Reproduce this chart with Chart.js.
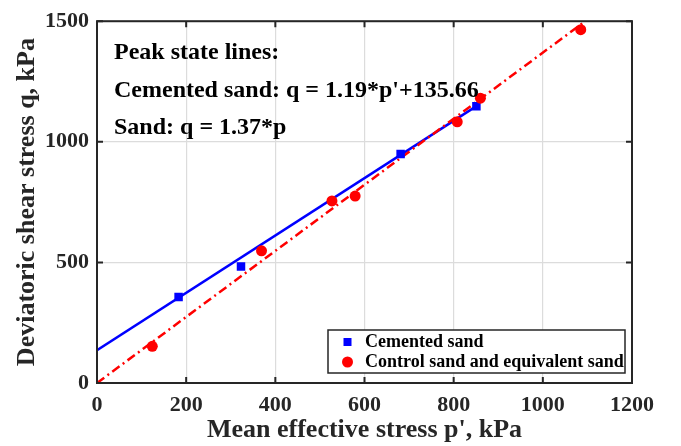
<!DOCTYPE html>
<html>
<head>
<meta charset="utf-8">
<script src="https://cdn.jsdelivr.net/npm/chart.js@4.4.1/dist/chart.umd.min.js"></script>
<style>
  body { margin: 0; background: #fff; }
  #wrap { width: 681px; height: 446px; }
</style>
</head>
<body>
<div id="wrap"><canvas id="mainChart" width="681" height="446"></canvas></div>
<script>
// values
const cementedP = [183, 323, 681, 851];
const cementedQ = [357, 483, 949, 1147];

const sandP = [124, 369, 527, 579, 808, 860, 1085];
const sandQ = [152, 548, 755, 775, 1083, 1181, 1465];

// fitted line end points
const cementedLineP = [0, 851];
const cementedLineQ = [135.66, 1148];
const sandLineP = [0, 1090];
const sandLineQ = [0, 1493];

const xTicks = [0, 200, 400, 600, 800, 1000, 1200];
const yTicks = [0, 500, 1000, 1500];

const noteLines = [
  "Peak state lines:",
  "Cemented sand: q = 1.19*p'+135.66",
  "Sand: q = 1.37*p"
];
const legendLabels = ["Cemented sand", "Control sand and equivalent sand"];

const serif = "'Liberation Serif', 'Times New Roman', serif";
const BLUE = '#0000ff';
const RED = '#ff0000';

function toPoints(xs, ys) {
  return xs.map((x, i) => ({ x: x, y: ys[i] }));
}

// box, inward ticks, notes and legend
const decorPlugin = {
  id: 'decor',
  afterDraw(chart) {
    const ctx = chart.ctx;
    const a = chart.chartArea;
    const xs = chart.scales.x;
    const ys = chart.scales.y;
    ctx.save();
    ctx.strokeStyle = '#262626';
    ctx.lineWidth = 2;
    ctx.strokeRect(a.left, a.top, a.right - a.left, a.bottom - a.top);

    const t = 6;
    ctx.beginPath();
    xTicks.forEach(v => {
      const px = xs.getPixelForValue(v);
      ctx.moveTo(px, a.bottom); ctx.lineTo(px, a.bottom - t);
      ctx.moveTo(px, a.top); ctx.lineTo(px, a.top + t);
    });
    yTicks.forEach(v => {
      const py = ys.getPixelForValue(v);
      ctx.moveTo(a.left, py); ctx.lineTo(a.left + t, py);
      ctx.moveTo(a.right, py); ctx.lineTo(a.right - t, py);
    });
    ctx.stroke();

    // notes
    ctx.fillStyle = '#000';
    ctx.font = "bold 24px " + serif;
    ctx.textBaseline = 'middle';
    ctx.textAlign = 'left';
    noteLines.forEach((s, i) => {
      ctx.fillText(s, a.left + 17, a.top + 32 + i * 37.5);
    });

    // legend
    const lx = 328, ly = 330, lw = 297, lh = 43;
    ctx.fillStyle = '#fff';
    ctx.fillRect(lx, ly, lw, lh);
    ctx.strokeStyle = '#262626';
    ctx.lineWidth = 1.5;
    ctx.strokeRect(lx, ly, lw, lh);
    ctx.font = "bold 18px " + serif;
    ctx.fillStyle = BLUE;
    ctx.fillRect(lx + 15.5, ly + 8, 8, 8);
    ctx.fillStyle = RED;
    ctx.beginPath();
    ctx.arc(lx + 19.5, ly + 32, 5.5, 0, Math.PI * 2);
    ctx.fill();
    ctx.fillStyle = '#000';
    ctx.fillText(legendLabels[0], lx + 37, ly + 12);
    ctx.fillText(legendLabels[1], lx + 37, ly + 32);
    ctx.restore();
  }
};

const ctx = document.getElementById('mainChart').getContext('2d');
new Chart(ctx, {
  type: 'scatter',
  data: {
    datasets: [
      {
        label: legendLabels[0],
        data: toPoints(cementedP, cementedQ),
        pointStyle: 'rect',
        pointRadius: 6,
        backgroundColor: BLUE,
        borderWidth: 0,
        order: 1
      },
      {
        label: legendLabels[1],
        data: toPoints(sandP, sandQ),
        pointStyle: 'circle',
        pointRadius: 5.5,
        backgroundColor: RED,
        borderWidth: 0,
        order: 0
      },
      {
        label: 'cemented fit',
        data: toPoints(cementedLineP, cementedLineQ),
        showLine: true,
        borderColor: BLUE,
        borderWidth: 2.5,
        pointRadius: 0,
        order: 3
      },
      {
        label: 'sand fit',
        data: toPoints(sandLineP, sandLineQ),
        showLine: true,
        borderColor: RED,
        borderWidth: 2.5,
        borderDash: [9, 4, 2, 4],
        pointRadius: 0,
        order: 2
      }
    ]
  },
  options: {
    responsive: false,
    animation: false,
    layout: { padding: { left: 0, right: 49, top: 15, bottom: 0 } },
    plugins: {
      legend: { display: false },
      tooltip: { enabled: false }
    },
    scales: {
      x: {
        type: 'linear',
        min: 0, max: 1200,
        afterBuildTicks: s => { s.ticks = xTicks.map(v => ({ value: v })); },
        afterFit: s => { s.height = 63; },
        grid: { color: '#dcdcdc', lineWidth: 1.2, drawTicks: false },
        border: { display: false },
        ticks: {
          padding: 9,
          color: '#262626',
          font: { family: serif, size: 22, weight: 'bold' },
          maxRotation: 0,
          callback: v => String(v)
        },
        title: {
          display: true,
          text: "Mean effective stress p', kPa",
          color: '#262626',
          font: { family: serif, size: 26, weight: 'bold' },
          padding: { top: 0, bottom: 0 }
        }
      },
      y: {
        type: 'linear',
        min: 0, max: 1500,
        afterBuildTicks: s => { s.ticks = yTicks.map(v => ({ value: v })); },
        afterFit: s => { s.width = 97; },
        grid: { color: '#dcdcdc', lineWidth: 1.2, drawTicks: false },
        border: { display: false },
        ticks: {
          padding: 8,
          color: '#262626',
          font: { family: serif, size: 22, weight: 'bold' },
          callback: v => String(v)
        },
        title: {
          display: true,
          text: 'Deviatoric shear stress q, kPa',
          color: '#262626',
          font: { family: serif, size: 26, weight: 'bold' },
          padding: { top: 12, bottom: 4 }
        }
      }
    }
  },
  plugins: [decorPlugin]
});
</script>
</body>
</html>
